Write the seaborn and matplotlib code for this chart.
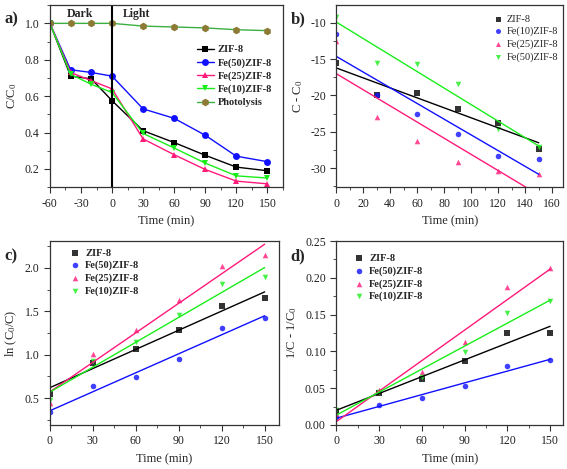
import numpy as np
import matplotlib
matplotlib.use('Agg')
import matplotlib.pyplot as plt
import seaborn as sns
from matplotlib.ticker import MultipleLocator

# ---- data ----
# a) C/C0 vs time, dark (-60..0) then light (0..150)
t_a = [-60, -40, -20, 0, 30, 60, 90, 120, 150]
a_zif8 = [1.0, 0.71, 0.695, 0.575, 0.41, 0.345, 0.275, 0.21, 0.19]
a_fe50 = [1.0, 0.745, 0.73, 0.71, 0.53, 0.478, 0.385, 0.27, 0.24]
a_fe25 = [1.0, 0.73, 0.685, 0.64, 0.365, 0.278, 0.197, 0.133, 0.118]
a_fe10 = [1.0, 0.72, 0.665, 0.62, 0.395, 0.315, 0.232, 0.162, 0.15]
a_photo = [1.0, 1.0, 1.0, 1.0, 0.985, 0.98, 0.975, 0.965, 0.96]

# b) C - C0 (zero order)
t_fit = [0, 30, 60, 90, 120, 150]
b_zif8 = [-15.6, -20.0, -19.7, -21.8, -23.8, -27.3]
b_fe10 = [-11.6, -19.9, -22.6, -25.3, -28.3, -28.7]
b_fe25 = [-12.5, -23.0, -26.2, -29.1, -30.4, -30.8]
b_fe50 = [-9.2, -15.6, -15.7, -18.4, -24.6, -27.1]

# c) ln(C0/C) (first order)
c_zif8 = [0.55, 0.905, 1.065, 1.29, 1.565, 1.655]
c_fe50 = [0.34, 0.635, 0.74, 0.955, 1.31, 1.425]
c_fe25 = [0.44, 1.01, 1.285, 1.63, 2.025, 2.145]
c_fe10 = [0.48, 0.925, 1.15, 1.455, 1.815, 1.895]

# d) 1/C - 1/C0 (second order)
d_zif8 = [0.019, 0.043, 0.063, 0.087, 0.125, 0.125]
d_fe50 = [0.011, 0.027, 0.036, 0.053, 0.080, 0.088]
d_fe25 = [0.015, 0.048, 0.072, 0.113, 0.187, 0.214]
d_fe10 = [0.020, 0.045, 0.065, 0.099, 0.152, 0.168]

BLACK, BLUE, PINK, GREEN = '#000000', '#1010ff', '#ff1a7a', '#1aee1a'
OLIVE, OLIVE_LINE = '#8c7a35', '#3cae43'

sns.set_style('ticks')
plt.rcParams['font.family'] = ['Liberation Serif', 'DejaVu Serif']
plt.rcParams['mathtext.fontset'] = 'custom'
plt.rcParams['mathtext.rm'] = 'Liberation Serif'
plt.rcParams['mathtext.it'] = 'Liberation Serif:italic'
plt.rcParams['axes.unicode_minus'] = False
plt.rcParams['axes.linewidth'] = 0.9
plt.rcParams['axes.edgecolor'] = '#333333'
for k in ('xtick', 'ytick'):
    plt.rcParams[k + '.direction'] = 'out'
    plt.rcParams[k + '.major.size'] = 4
    plt.rcParams[k + '.minor.size'] = 2.5
    plt.rcParams[k + '.labelsize'] = 8.5
    plt.rcParams[k + '.color'] = '#333333'
    plt.rcParams[k + '.labelcolor'] = '#222222'

fig = plt.figure(figsize=(5.67, 4.69), dpi=100)
ax_a = fig.add_axes([0.088, 0.601, 0.411, 0.388])
ax_b = fig.add_axes([0.593, 0.601, 0.400, 0.388])
ax_c = fig.add_axes([0.088, 0.094, 0.404, 0.392])
ax_d = fig.add_axes([0.593, 0.094, 0.400, 0.392])

for ax in (ax_a, ax_b, ax_c, ax_d):
    for s in ax.spines.values():
        s.set_visible(True)

# ---- a) ----
series_a = [('ZIF-8', a_zif8, BLACK, 's'), ('Fe(50)ZIF-8', a_fe50, BLUE, 'o'),
            ('Fe(25)ZIF-8', a_fe25, PINK, '^'), ('Fe(10)ZIF-8', a_fe10, GREEN, 'v')]
for name, vals, col, mk in series_a:
    sns.lineplot(x=t_a, y=vals, ax=ax_a, color=col, marker=mk, markersize=5,
                 markeredgewidth=0, lw=1, label=name)
sns.lineplot(x=t_a, y=a_photo, ax=ax_a, color=OLIVE_LINE, marker='h', markersize=5.5,
             markerfacecolor=OLIVE, markeredgewidth=0, lw=1, label='Photolysis')
ax_a.axvline(0, color='black', lw=1.5)
ax_a.set_xlim(-60, 165)
ax_a.set_ylim(0.1, 1.1)
ax_a.xaxis.set_major_locator(MultipleLocator(30))
ax_a.xaxis.set_minor_locator(MultipleLocator(15))
ax_a.yaxis.set_major_locator(MultipleLocator(0.2))
ax_a.yaxis.set_minor_locator(MultipleLocator(0.1))
ax_a.text(-44, 1.085, 'Dark', fontsize=8.5, fontweight='bold', va='top')
ax_a.text(10, 1.085, 'Light', fontsize=8.5, fontweight='bold', va='top')
ax_a.set_ylabel('C/C$_0$', fontsize=9)
ax_a.legend(loc='upper left', bbox_to_anchor=(0.6, 0.82), frameon=False,
            prop={'weight': 'bold', 'size': 7.5}, handlelength=1.6,
            handletextpad=0.4, labelspacing=0.35, borderpad=0.2)

# ---- fitted panels ----
def fit_panel(ax, series):
    for name, vals, col, mk in series:
        sns.regplot(x=np.array(t_fit), y=np.array(vals), ax=ax, ci=None, marker=mk,
                    color=col, label=name, truncate=True,
                    scatter_kws={'s': 16, 'linewidths': 0},
                    line_kws={'lw': 1})
    ax.xaxis.set_major_locator(MultipleLocator(30))
    ax.xaxis.set_minor_locator(MultipleLocator(15))

series_b = [('ZIF-8', b_zif8, BLACK, 's'), ('Fe(10)ZIF-8', b_fe10, BLUE, 'o'),
            ('Fe(25)ZIF-8', b_fe25, PINK, '^'), ('Fe(50)ZIF-8', b_fe50, GREEN, 'v')]
fit_panel(ax_b, series_b)
ax_b.set_xlim(0, 168)
ax_b.set_ylim(-32.6, -7.6)
ax_b.xaxis.set_major_locator(MultipleLocator(20))
ax_b.xaxis.set_minor_locator(MultipleLocator(10))
ax_b.yaxis.set_major_locator(MultipleLocator(5))
ax_b.yaxis.set_minor_locator(MultipleLocator(2.5))
ax_b.set_ylabel('C - C$_0$', fontsize=9)
ax_b.legend(loc='upper left', bbox_to_anchor=(0.66, 0.99), frameon=False,
            prop={'size': 7.5}, handlelength=1.0, handletextpad=0.3,
            labelspacing=0.3, borderpad=0.2, markerscale=0.9)

series_cd = [('ZIF-8', BLACK, 's'), ('Fe(50)ZIF-8', BLUE, 'o'),
             ('Fe(25)ZIF-8', PINK, '^'), ('Fe(10)ZIF-8', GREEN, 'v')]
fit_panel(ax_c, [(n, v, c, m) for (n, c, m), v in
                 zip(series_cd, [c_zif8, c_fe50, c_fe25, c_fe10])])
ax_c.set_xlim(0, 160)
ax_c.set_ylim(0.19, 2.31)
ax_c.yaxis.set_major_locator(MultipleLocator(0.5))
ax_c.yaxis.set_minor_locator(MultipleLocator(0.25))
ax_c.set_ylabel('ln (C$_0$/C)', fontsize=9)
ax_c.legend(loc='upper left', bbox_to_anchor=(0.05, 1.0), frameon=False,
            prop={'weight': 'bold', 'size': 7.5}, handlelength=1.2,
            handletextpad=0.4, labelspacing=0.3, borderpad=0.2)

fit_panel(ax_d, [(n, v, c, m) for (n, c, m), v in
                 zip(series_cd, [d_zif8, d_fe50, d_fe25, d_fe10])])
ax_d.set_xlim(0, 159)
ax_d.set_ylim(0, 0.25)
ax_d.yaxis.set_major_locator(MultipleLocator(0.05))
ax_d.yaxis.set_minor_locator(MultipleLocator(0.025))
ax_d.yaxis.set_major_formatter(matplotlib.ticker.FormatStrFormatter('%.2f'))
ax_d.set_ylabel('1/C - 1/C$_0$', fontsize=9)
ax_d.legend(loc='upper left', bbox_to_anchor=(0.04, 0.97), frameon=False,
            prop={'weight': 'bold', 'size': 7.5}, handlelength=1.2,
            handletextpad=0.4, labelspacing=0.3, borderpad=0.2)

for ax in (ax_a, ax_b, ax_c, ax_d):
    ax.set_xlabel('Time (min)', fontsize=9)
    ax.tick_params(which='both', top=False, right=False)

for lab, x, y in [('a)', 0.008, 0.975), ('b)', 0.512, 0.975),
                  ('c)', 0.008, 0.47), ('d)', 0.512, 0.47)]:
    fig.text(x, y, lab, fontsize=12, fontweight='bold', va='top')

fig.savefig('out.png', dpi=100)
